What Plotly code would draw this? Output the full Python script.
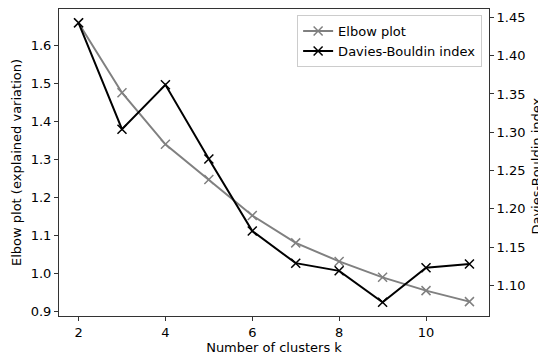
import plotly.graph_objects as go

k_values = [2, 3, 4, 5, 6, 7, 8, 9, 10, 11]
elbow = [1.660, 1.476, 1.340, 1.247, 1.152, 1.080, 1.031, 0.989, 0.954, 0.925]
davies_bouldin = [1.443, 1.304, 1.362, 1.265, 1.171, 1.129, 1.119, 1.078, 1.123, 1.128]

x_ticks = [2, 4, 6, 8, 10]
y_ticks = [0.9, 1.0, 1.1, 1.2, 1.3, 1.4, 1.5, 1.6]
y2_ticks = [1.10, 1.15, 1.20, 1.25, 1.30, 1.35, 1.40, 1.45]

FONT = "DejaVu Sans"
FS = 13
fig = go.Figure()
fig.add_trace(go.Scatter(
    x=k_values, y=elbow, name="Elbow plot", mode="lines+markers",
    line=dict(color="#808080", width=2),
    marker=dict(symbol="x-thin", size=9, line=dict(color="#808080", width=1.5)),
    yaxis="y"))
fig.add_trace(go.Scatter(
    x=k_values, y=davies_bouldin, name="Davies-Bouldin index", mode="lines+markers",
    line=dict(color="black", width=2),
    marker=dict(symbol="x-thin", size=9, line=dict(color="black", width=1.5)),
    yaxis="y2"))

axis_common = dict(showline=True, linecolor="#333", linewidth=1, ticks="outside",
                   ticklen=4, tickcolor="#333", showgrid=False, zeroline=False,
                   automargin=False,
                   tickfont=dict(family=FONT, size=FS, color="black"))

fig.update_layout(
    width=538, height=358,
    margin=dict(l=59, r=49, t=9, b=42),
    paper_bgcolor="white", plot_bgcolor="white",
    font=dict(family=FONT, size=FS, color="black"),
    showlegend=True,
    legend=dict(x=0.984, y=0.98, xanchor="right", yanchor="top",
                bgcolor="rgba(255,255,255,0.8)", bordercolor="#cccccc", borderwidth=1,
                font=dict(family=FONT, size=FS), tracegroupgap=0),
    xaxis=dict(range=[1.55, 11.45], tickvals=x_ticks, mirror=True,
               title=dict(text="Number of clusters k", standoff=4,
                          font=dict(family=FONT, size=FS)),
               **axis_common),
    yaxis=dict(range=[0.887, 1.697], tickvals=y_ticks, tickformat=".1f", mirror=True,
               title=dict(text="Elbow plot (explained variation)", standoff=6,
                          font=dict(family=FONT, size=FS)),
               **axis_common),
    yaxis2=dict(range=[1.060, 1.461], tickvals=y2_ticks, tickformat=".2f",
                overlaying="y", side="right",
                **axis_common),
    annotations=[dict(text="Davies-Bouldin index", xref="paper", yref="paper",
                      x=1.1116, y=0.49, xanchor="center", yanchor="middle",
                      textangle=-90, showarrow=False,
                      font=dict(family=FONT, size=FS, color="black"))],
)

fig.write_html("out.html")
